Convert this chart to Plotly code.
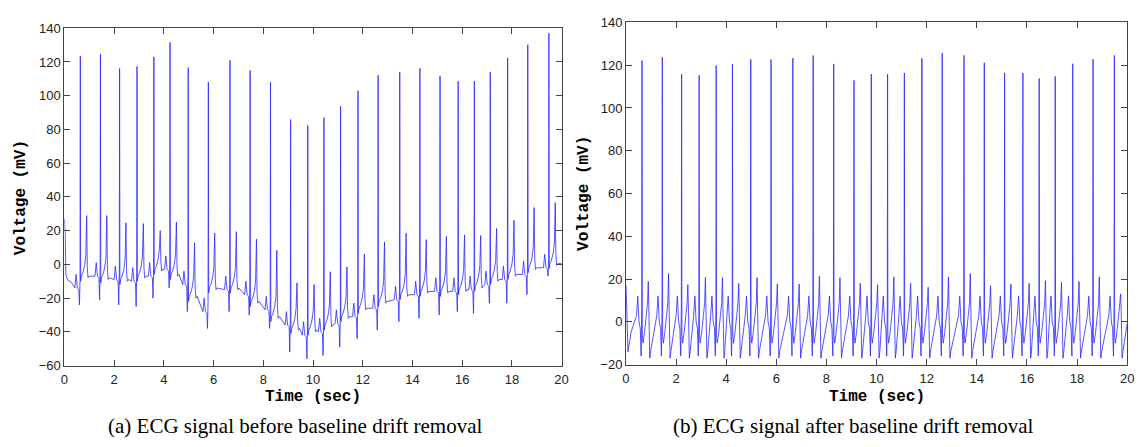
import plotly.graph_objects as go

# ---------------- data ----------------
# R-peak times (sec), shared by both recordings
beat_time = [0.64, 1.45, 2.22, 2.92, 3.60, 4.25, 4.98, 5.79, 6.66, 7.47, 8.29, 9.10,
             9.79, 10.44, 11.11, 11.81, 12.62, 13.49, 14.30, 15.11, 15.84, 16.49,
             17.13, 17.83, 18.64, 19.49]

# (a) before drift removal
left_r = [123.6, 124.7, 116.2, 117.3, 123.0, 131.6, 116.7, 108.2, 121.0, 115.0, 108.0, 85.9,
          82.3, 87.0, 93.9, 103.0, 112.2, 114.1, 116.2, 111.8, 108.6, 108.6, 114.1, 122.5,
          130.3, 137.1]
left_t = [28.9, 28.9, 24.6, 24.2, 20.0, 25.1, 12.7, 18.5, 19.4, 15.0, 8.3, -11.0,
          -12.0, -4.4, -1.5, 6.1, 13.3, 18.5, 14.7, 16.6, 17.5, 17.1, 21.3, 26.1, 33.7, 36.6]
left_q = [-24, -21, -24, -25, -20, -14, -28, -38, -28, -30, -38, -52,
          -56, -54, -49, -44, -39, -34, -32, -30, -28, -29, -23, -23, -18, -7]
left_base_pre = [-14, -7, -9, -10, -7, -3, -12, -28, -15, -18, -27, -36,
                 -42, -40, -35, -31, -26, -21, -18, -16, -16, -15, -12, -9, -6, -2]
left_base_post = [-7, -8, -9, -7, -3, -6, -19, -14, -14, -22, -31, -38,
                  -39, -36, -31, -26, -22, -18, -16, -16, -15, -13, -9, -6, -2, 0.5]
left_lead_t = [0.0, 0.03, 0.06, 0.12, 0.30]
left_lead_v = [27, 18, -6, -9, -11]
left_tail_t = [20.0]
left_tail_v = [0.4]

# (b) after drift removal
right_r = [122.2, 123.7, 115.9, 115.3, 119.8, 120.6, 122.7, 122.7, 123.3, 124.6, 120.6, 112.9,
           115.9, 115.9, 116.4, 123.3, 125.7, 124.6, 121.2, 116.4, 116.4, 113.8, 114.8, 120.7,
           122.8, 124.6]
right_t = [18.9, 22.6, 17.4, 20.7, 20.7, 18.0, 20.7, 17.7, 17.7, 21.4, 20.7, 18.0,
           17.4, 21.0, 18.0, 16.2, 21.0, 22.5, 16.9, 17.7, 18.0, 19.2, 18.5, 18.9, 21.0, 13.1]
right_lead_t = [0.0, 0.02, 0.08, 0.20]
right_lead_v = [17, 10, -14, -5]
right_tail_t = [20.0]
right_tail_v = [-1]

# beat shape (offset from R in sec, level relative to baseline)
left_pre_off = [-0.22, -0.17, -0.12, -0.06]
left_pre_rel = [0, 8, 0, -1]
left_post_off = [0.012, 0.04, 0.10, 0.17, 0.22]
left_post_rel = [-3, 0, 2, 6, 12]
left_end_off = [0.28, 0.31, 0.36]
left_end_rel = [5, -1, 0]

right_pre_off = [-0.22, -0.17, -0.12, -0.07, -0.035, -0.012]
right_pre_rel = [3, 12, 0, -3, -16, 5]
right_post_off = [0.012, 0.04, 0.10, 0.17, 0.22]
right_post_rel = [-6, -10, -5, 3, 9]
right_end_off = [0.275, 0.31, 0.34]
right_end_rel = [4, -17, -14]

Q_OFF = -0.035
J_OFF = -0.012
T_OFF_L = 0.255
T_OFF_R = 0.25


def build_left():
    xs, ys = list(left_lead_t), list(left_lead_v)
    for i, tb in enumerate(beat_time):
        bp, bq = left_base_pre[i], left_base_post[i]
        for o, r in zip(left_pre_off, left_pre_rel):
            xs.append(tb + o); ys.append(bp + r)
        xs.append(tb + Q_OFF); ys.append(left_q[i])
        xs.append(tb + J_OFF); ys.append(bp + 5)
        xs.append(tb); ys.append(left_r[i])
        for o, r in zip(left_post_off, left_post_rel):
            xs.append(tb + o); ys.append(bq + r)
        xs.append(tb + T_OFF_L); ys.append(left_t[i])
        for o, r in zip(left_end_off, left_end_rel):
            xs.append(tb + o); ys.append(bq + r)
    xs += left_tail_t; ys += left_tail_v
    return xs, ys


def build_right():
    xs, ys = list(right_lead_t), list(right_lead_v)
    for i, tb in enumerate(beat_time):
        for o, r in zip(right_pre_off, right_pre_rel):
            xs.append(tb + o); ys.append(r)
        xs.append(tb); ys.append(right_r[i])
        for o, r in zip(right_post_off, right_post_rel):
            xs.append(tb + o); ys.append(r)
        xs.append(tb + T_OFF_R); ys.append(right_t[i])
        for o, r in zip(right_end_off, right_end_rel):
            xs.append(tb + o); ys.append(r)
    xs += right_tail_t; ys += right_tail_v
    return xs, ys


lx, ly = build_left()
rx, ry = build_right()

W, H = 1148, 447
line = dict(color="rgb(40,40,255)", width=0.8, simplify=False)

fig = go.Figure()
fig.add_trace(go.Scatter(x=lx, y=ly, mode="lines", line=line, xaxis="x", yaxis="y",
                         showlegend=False, hoverinfo="skip"))
fig.add_trace(go.Scatter(x=rx, y=ry, mode="lines", line=line, xaxis="x2", yaxis="y2",
                         showlegend=False, hoverinfo="skip"))

tickfont = dict(family="Liberation Sans, Arial", size=13, color="#222")
axcommon = dict(showline=True, linecolor="#444", linewidth=1, mirror="ticks",
                ticks="inside", ticklen=6, tickcolor="#444", showgrid=False,
                zeroline=False, tickfont=tickfont)

fig.update_layout(
    width=W, height=H, margin=dict(l=0, r=0, t=0, b=0),
    paper_bgcolor="white", plot_bgcolor="white",
    xaxis=dict(domain=[61 / W, 563 / W], range=[0, 20], tickvals=list(range(0, 21, 2)),
               anchor="y", ticklabelstandoff=2, **axcommon),
    yaxis=dict(domain=[1 - 371 / H, 1 - 22 / H], range=[-60, 140],
               tickvals=list(range(-60, 141, 20)), anchor="x", **axcommon),
    xaxis2=dict(domain=[628 / W, 1134 / W], range=[0, 20], tickvals=list(range(0, 21, 2)),
                anchor="y2", ticklabelstandoff=2, **axcommon),
    yaxis2=dict(domain=[1 - 370 / H, 1 - 16 / H], range=[-20, 140],
                tickvals=list(range(-20, 141, 20)), anchor="x2", **axcommon),
)

titlefont = dict(family="Liberation Mono, Courier New", size=16, color="black")
capfont = dict(family="Liberation Serif, Times New Roman", size=21, color="black")

ann = [
    dict(text="<b>Time (sec)</b>", x=312 / W, y=1 - 404 / H, font=titlefont),
    dict(text="<b>Time (sec)</b>", x=881 / W, y=1 - 404 / H, font=titlefont),
    dict(text="<b>Voltage (mV)</b>", x=18 / W, y=1 - 197 / H, font=titlefont, textangle=-90),
    dict(text="<b>Voltage (mV)</b>", x=585 / W, y=1 - 193 / H, font=titlefont, textangle=-90),
    dict(text="(a) ECG signal before baseline drift removal", x=294 / W, y=1 - 434 / H, font=capfont),
    dict(text="(b) ECG signal after baseline drift removal", x=858 / W, y=1 - 434 / H, font=capfont),
]
for a in ann:
    fig.add_annotation(xref="paper", yref="paper", showarrow=False,
                       xanchor="center", yanchor="middle", **a)

fig.write_html("out.html")
